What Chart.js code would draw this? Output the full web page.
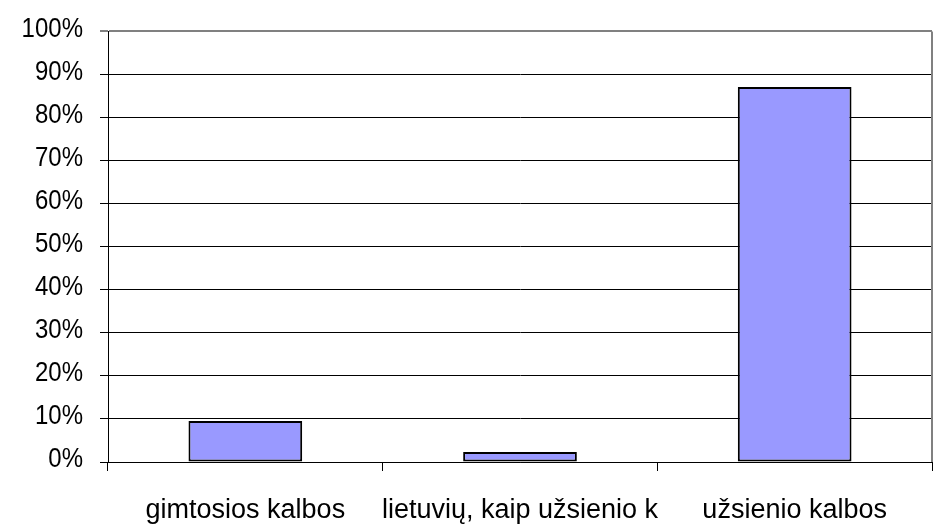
<!DOCTYPE html>
<html>
<head>
<meta charset="utf-8">
<script src="https://cdn.jsdelivr.net/npm/chart.js@4/dist/chart.umd.min.js"></script>
<style>
html,body{margin:0;padding:0;background:#fff;}
#wrap{width:937px;height:528px;}
</style>
</head>
<body>
<div id="wrap"><canvas id="c" width="937" height="528"></canvas></div>
<script>
const categories = ['gimtosios kalbos', 'lietuvių, kaip užsienio k', 'užsienio kalbos'];
const values = [9.5, 2.3, 87.1];
const yTicks = [0, 10, 20, 30, 40, 50, 60, 70, 80, 90, 100];

const FAMILY = 'Liberation Sans, Arial, sans-serif';

const canvas = document.getElementById('c');
const ctx2d = canvas.getContext('2d');
// the reference's value-axis labels are drawn slightly stretched vertically
const origFillText = ctx2d.fillText;
ctx2d.fillText = function (t, x, y, w) {
  if (this.textAlign === 'right') {
    this.save();
    this.translate(x, y - 2);
    this.scale(1, 1.12);
    if (w === undefined) origFillText.call(this, t, 0, 0); else origFillText.call(this, t, 0, 0, w);
    this.restore();
  } else {
    if (w === undefined) origFillText.call(this, t, x, y); else origFillText.call(this, t, x, y, w);
  }
};

const frame = {
  id: 'frame',
  afterDatasetsDraw(chart) {
    const a = chart.chartArea, ctx = chart.ctx;
    ctx.save();
    ctx.strokeStyle = '#808080';
    ctx.lineWidth = 2;
    ctx.beginPath();
    ctx.moveTo(a.right, a.top);
    ctx.lineTo(a.right, a.bottom);
    ctx.stroke();
    ctx.restore();
  }
};

new Chart(canvas, {
  type: 'bar',
  data: {
    labels: categories,
    datasets: [{
      data: values,
      backgroundColor: '#9999FF',
      borderColor: '#000000',
      borderWidth: 2,
      borderSkipped: false,
      categoryPercentage: 1,
      barPercentage: 0.414
    }]
  },
  options: {
    responsive: false,
    animation: false,
    devicePixelRatio: 1,
    layout: {padding: {top: 25, right: 5, left: 0, bottom: 0}},
    plugins: {legend: {display: false}, tooltip: {enabled: false}},
    scales: {
      x: {
        offset: true,
        grid: {display: true, offset: true, drawOnChartArea: false, tickLength: 9, color: '#000', lineWidth: 1},
        border: {color: '#000', width: 1},
        ticks: {font: {family: FAMILY, size: 27}, color: '#000', padding: 23, maxRotation: 0, autoSkip: false},
        afterFit(s) { s.height = 66; }
      },
      y: {
        min: 0, max: 100,
        afterBuildTicks(s) { s.ticks = yTicks.map(v => ({value: v})); },
        grid: {
          color: ctx => ctx.tick && ctx.tick.value === 100 ? '#808080' : '#000',
          lineWidth: ctx => ctx.tick && ctx.tick.value === 100 ? 2 : 1,
          tickLength: 8
        },
        border: {color: '#000', width: 1},
        ticks: {font: {family: FAMILY, size: 24}, color: '#000', padding: 17, callback: v => v + '%'},
        afterFit(s) { s.width = 108; }
      }
    }
  },
  plugins: [frame]
});
</script>
</body>
</html>
